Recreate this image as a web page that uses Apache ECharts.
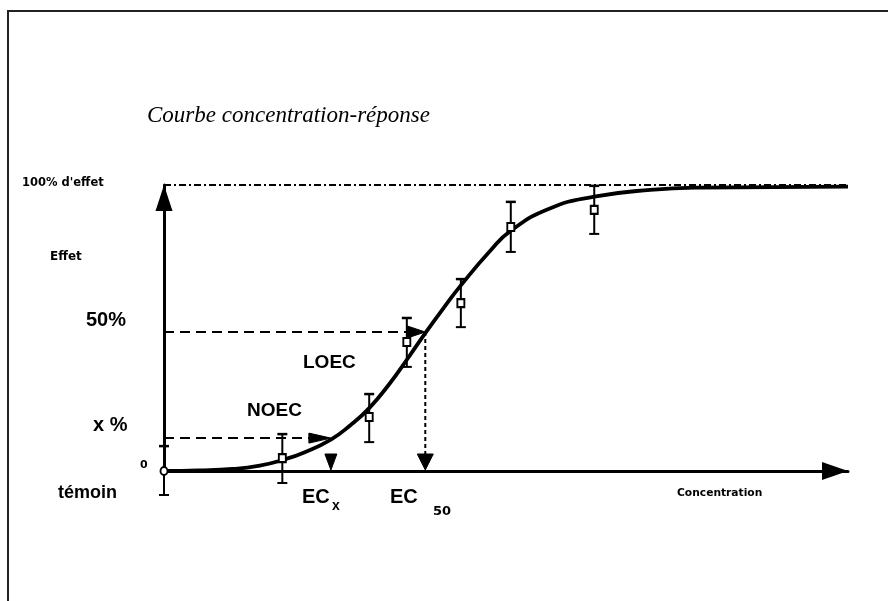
<!DOCTYPE html>
<html>
<head>
<meta charset="utf-8">
<script src="https://cdn.jsdelivr.net/npm/echarts@6/dist/echarts.min.js"></script>
<style>html,body{margin:0;padding:0;background:#fff;}#main{width:888px;height:601px;}</style>
</head>
<body>
<div id="main"></div>
<script>
// Fitted concentration-response curve (concentration %, effect %)
const curvePoints = [
  [0,0],[5,0.2],[10,0.7],[14,1.9],[17.4,3.9],[20.5,6.5],[24.4,11.0],
  [27.2,15.9],[30.0,22.0],[33.0,30.6],[35.5,38.9],[38.2,48.2],[41.1,57.7],
  [43.4,64.9],[47.7,77.0],[50.7,84.0],[56.4,91.8],[62.9,95.9],[71.1,98.3],
  [78.4,99.1],[100,99.4]
];
// Observed responses with error bars
const obsConc   = [0, 17.3, 30.0, 35.5, 43.4, 50.7, 62.9];
const obsEffect = [0, 4.5, 18.9, 45.1, 58.7, 85.3, 91.3];
const obsLow    = [-8.4, -4.2, 10.1, 36.4, 50.3, 76.6, 82.9];
const obsHigh   = [8.7, 12.9, 26.9, 53.5, 67.1, 94.1, 99.7];
// Reference levels
const fullEffect = 100;
const halfEffect = 48.6;
const xEffect = 11.5;
const ec50 = 38.2;
const ecx = 24.4;
const concMax = 100;

const chart = echarts.init(document.getElementById('main'), null, {renderer: 'canvas'});

function arrowHead(tip, dir, len, half) {
  const bx = tip[0] - dir[0] * len, by = tip[1] - dir[1] * len;
  const nx = -dir[1], ny = dir[0];
  return {
    type: 'polygon',
    shape: {points: [[tip[0], tip[1]], [bx + nx * half, by + ny * half], [bx - nx * half, by - ny * half]]},
    style: {fill: '#000', stroke: '#000', lineWidth: 1}
  };
}

const txt = (text, x, y, font) => ({
  type: 'text', x: x, y: y, silent: true,
  style: {text: text, font: font, fill: '#000', align: 'left', verticalAlign: 'middle',
          textAlign: 'left', textVerticalAlign: 'middle'}
});

const smallFont = 'bold 11.5px "DejaVu Sans"';
const bigFont = 'bold 20px "Liberation Sans"';

const option = {
  animation: false,
  backgroundColor: '#fff',
  grid: {left: 164, right: 40, top: 185, bottom: 130, containLabel: false},
  xAxis: {
    type: 'value', min: 0, max: concMax,
    axisLine: {show: true, onZero: true, lineStyle: {color: '#000', width: 3},
               symbol: ['none', 'triangle'], symbolSize: [18, 26], symbolOffset: [0, -13]},
    axisTick: {show: false}, axisLabel: {show: false}, splitLine: {show: false}
  },
  yAxis: {
    type: 'value', min: 0, max: fullEffect,
    axisLine: {show: true, lineStyle: {color: '#000', width: 3},
               symbol: ['none', 'triangle'], symbolSize: [17, 26], symbolOffset: [0, -13]},
    axisTick: {show: false}, axisLabel: {show: false}, splitLine: {show: false}
  },
  graphic: [
    {type: 'line', shape: {x1: 7, y1: 11, x2: 888, y2: 11}, style: {stroke: '#222', lineWidth: 2}},
    {type: 'line', shape: {x1: 8, y1: 11, x2: 8, y2: 601}, style: {stroke: '#222', lineWidth: 2}},
    txt('Courbe concentration-réponse', 147, 116, 'italic 23px "Liberation Serif"'),
    txt("100% d'effet", 22, 183, smallFont),
    txt('Effet', 50, 257, 'bold 12px "DejaVu Sans"'),
    txt('50%', 86, 320, bigFont),
    txt('x %', 93, 425, bigFont),
    txt('0', 140, 465, 'bold 11px "DejaVu Sans"'),
    txt('témoin', 58, 493, 'bold 18px "Liberation Sans"'),
    txt('NOEC', 247, 411, 'bold 19px "Liberation Sans"'),
    txt('LOEC', 303, 363, 'bold 19px "Liberation Sans"'),
    txt('EC', 302, 497, bigFont),
    txt('x', 332, 506, 'bold 14px "Liberation Sans"'),
    txt('EC', 390, 497, bigFont),
    txt('50', 433, 512, 'bold 13px "DejaVu Sans"'),
    txt('Concentration', 677, 493, 'bold 10.7px "DejaVu Sans"')
  ],
  series: [
    {
      type: 'custom', name: 'guides', clip: false, z: 3,
      data: [[0]],
      renderItem: function (params, api) {
        const children = [];
        const a = api.coord([0, fullEffect]), b = api.coord([concMax, fullEffect]);
        children.push({type: 'line', shape: {x1: a[0], y1: a[1], x2: b[0], y2: b[1]},
          style: {stroke: '#000', lineWidth: 2, lineDash: [7, 3, 2, 3]}});
        const h1 = api.coord([0, halfEffect]), h2 = api.coord([ec50, halfEffect]);
        children.push({type: 'line', shape: {x1: h1[0], y1: h1[1], x2: h2[0] - 10, y2: h2[1]},
          style: {stroke: '#000', lineWidth: 2, lineDash: [10, 6]}});
        children.push(arrowHead(h2, [1, 0], 18, 6));
        const x1 = api.coord([0, xEffect]), x2 = api.coord([ecx, xEffect]);
        children.push({type: 'line', shape: {x1: x1[0], y1: x1[1], x2: x2[0] - 10, y2: x2[1]},
          style: {stroke: '#000', lineWidth: 2, lineDash: [10, 6]}});
        children.push(arrowHead(x2, [1, 0], 22, 5));
        const v2 = api.coord([ec50, 0]);
        children.push({type: 'line', shape: {x1: h2[0], y1: h2[1], x2: v2[0], y2: v2[1] - 8},
          style: {stroke: '#000', lineWidth: 2, lineDash: [4, 3]}});
        children.push(arrowHead([v2[0], v2[1] - 1], [0, 1], 16, 8));
        const e = api.coord([ecx, 0]);
        children.push(arrowHead([e[0], e[1] - 1], [0, 1], 16, 6));
        return {type: 'group', children: children};
      }
    },
    {
      type: 'line', name: 'curve', data: curvePoints, smooth: 0.5,
      symbol: 'none', lineStyle: {color: '#000', width: 3.8}, z: 4, clip: false
    },
    {
      type: 'custom', name: 'errors', clip: false, z: 5,
      data: obsConc.map((c, i) => [c, obsLow[i], obsHigh[i]]),
      renderItem: function (params, api) {
        const lo = api.coord([api.value(0), api.value(1)]);
        const hi = api.coord([api.value(0), api.value(2)]);
        const w = 5;
        return {type: 'group', children: [
          {type: 'line', shape: {x1: lo[0], y1: lo[1], x2: hi[0], y2: hi[1]}, style: {stroke: '#000', lineWidth: 2}},
          {type: 'line', shape: {x1: hi[0] - w, y1: hi[1], x2: hi[0] + w, y2: hi[1]}, style: {stroke: '#000', lineWidth: 2.5}},
          {type: 'line', shape: {x1: lo[0] - w, y1: lo[1], x2: lo[0] + w, y2: lo[1]}, style: {stroke: '#000', lineWidth: 2}}
        ]};
      }
    },
    {
      type: 'scatter', name: 'observed', z: 6,
      data: obsConc.map((c, i) => [c, obsEffect[i]]),
      symbol: function (v, p) { return p.dataIndex === 0 ? 'circle' : 'rect'; },
      symbolSize: [7, 8],
      itemStyle: {color: '#fff', borderColor: '#000', borderWidth: 2, opacity: 1}
    }
  ]
};
chart.setOption(option);
</script>
</body>
</html>
